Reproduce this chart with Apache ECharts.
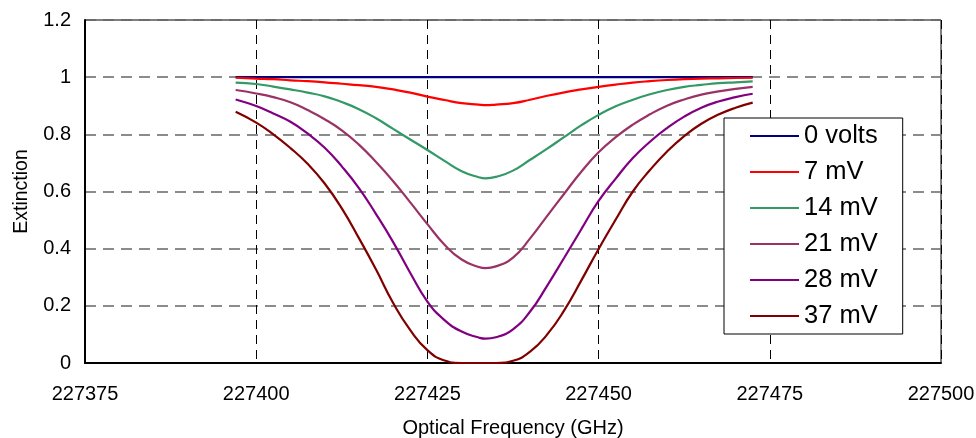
<!DOCTYPE html>
<html>
<head>
<meta charset="utf-8">
<script src="https://cdn.jsdelivr.net/npm/echarts@6/dist/echarts.min.js"></script>
<style>
html,body{margin:0;padding:0;background:#fff;}
#c{width:976px;height:438px;}
</style>
</head>
<body>
<div id="c"></div>
<script>
const freqs = [227397, 227400, 227402.5, 227405, 227407.5, 227410, 227412.5, 227415, 227417.5, 227420,
  227422.5, 227425, 227427.5, 227430, 227432.5, 227433.5, 227435, 227437.5, 227440, 227442.5, 227445,
  227447.5, 227450, 227452.5, 227455, 227457.5, 227460, 227462.5, 227465, 227467.5, 227470, 227472.5];

const v0 = [1,1,1,1,1,1,1,1,1,1,1,1,1,1,1,1,1,1,1,1,1,1,1,1,1,1,1,1,1,1,1,1];
const v7 = [0.998,0.995,0.993,0.989,0.986,0.982,0.977,0.972,0.966,0.957,0.946,0.932,0.920,0.909,0.904,0.902,0.904,0.909,0.921,0.935,0.947,0.957,0.966,0.974,0.981,0.986,0.990,0.993,0.995,0.996,0.997,0.998];
const v14 = [0.981,0.976,0.967,0.957,0.946,0.933,0.913,0.888,0.856,0.819,0.782,0.745,0.707,0.671,0.650,0.646,0.651,0.673,0.711,0.750,0.791,0.832,0.868,0.898,0.921,0.940,0.955,0.966,0.973,0.979,0.982,0.985];
const v21 = [0.955,0.943,0.930,0.912,0.885,0.853,0.814,0.764,0.703,0.636,0.562,0.486,0.414,0.362,0.336,0.332,0.338,0.369,0.436,0.515,0.593,0.670,0.737,0.790,0.834,0.870,0.900,0.922,0.939,0.950,0.959,0.966];
const v28 = [0.922,0.899,0.873,0.844,0.803,0.753,0.688,0.612,0.521,0.423,0.315,0.215,0.150,0.110,0.089,0.085,0.090,0.118,0.180,0.271,0.369,0.469,0.567,0.645,0.717,0.774,0.822,0.862,0.893,0.915,0.930,0.942];
const v37 = [0.879,0.841,0.800,0.752,0.697,0.628,0.541,0.437,0.327,0.210,0.115,0.045,0.009,0,0,0,0,0.008,0.040,0.100,0.185,0.290,0.399,0.502,0.600,0.675,0.740,0.794,0.837,0.869,0.893,0.911];

const names = ['0 volts', '7 mV', '14 mV', '21 mV', '28 mV', '37 mV'];
const values = [v0, v7, v14, v21, v28, v37];
const colors = ['#000080', '#FF0000', '#339966', '#993366', '#800080', '#800000'];

const FONT = 'Liberation Sans, Arial, sans-serif';

const chart = echarts.init(document.getElementById('c'), null, {renderer: 'canvas'});
chart.setOption({
  animation: false,
  backgroundColor: '#fff',
  grid: {left: 85, right: 35, top: 20, bottom: 75, containLabel: false, outerBoundsMode: 'none',
    show: true, borderColor: '#000', borderWidth: 1, backgroundColor: 'transparent'},
  xAxis: {
    type: 'value', min: 227375, max: 227500, interval: 25,
    axisLine: {onZero: false, lineStyle: {color: '#000', width: 2}},
    axisTick: {show: false},
    axisLabel: {color: '#000', fontSize: 20, fontFamily: FONT, margin: 21, formatter: v => String(v)},
    splitLine: {show: true, lineStyle: {color: '#000', width: 1, type: [9, 6]}},
    name: 'Optical Frequency (GHz)', nameLocation: 'middle', nameGap: 55,
    nameTextStyle: {color: '#000', fontSize: 20, fontFamily: FONT}
  },
  yAxis: {
    type: 'value', min: 0, max: 1.2, interval: 0.2,
    axisLine: {show: true, onZero: false, lineStyle: {color: '#000', width: 2}},
    axisTick: {show: false},
    axisLabel: {color: '#000', fontSize: 20, fontFamily: FONT, margin: 14},
    splitLine: {show: true, lineStyle: {color: '#666', width: 1.5, type: [11, 7]}},
    name: 'Extinction', nameLocation: 'middle', nameGap: 53,
    nameTextStyle: {color: '#000', fontSize: 19.5, fontFamily: FONT}
  },
  legend: {
    orient: 'vertical', left: 724, top: 118,
    padding: [5, 25, 5, 26], itemGap: 10,
    itemWidth: 49, itemHeight: 2, icon: 'rect',
    backgroundColor: '#fff', borderColor: '#000', borderWidth: 1,
    textStyle: {color: '#000', fontSize: 25.5, fontFamily: FONT, lineHeight: 26},
    data: names
  },
  series: names.map((n, i) => ({
    name: n, type: 'line', smooth: i === 0 ? false : 0.5,
    symbol: 'none', showSymbol: false,
    color: colors[i],
    lineStyle: {color: colors[i], width: 2.2},
    data: freqs.map((f, j) => [f, values[i][j]])
  }))
});
</script>
</body>
</html>
